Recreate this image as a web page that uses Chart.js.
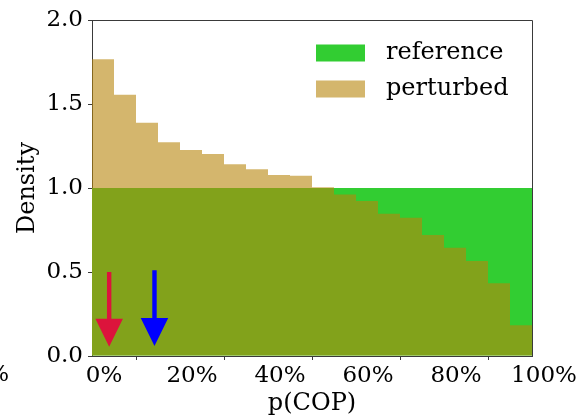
<!DOCTYPE html>
<html><head><meta charset="utf-8">
<script src="https://cdn.jsdelivr.net/npm/chart.js@4/dist/chart.umd.min.js"></script>
<style>html,body{margin:0;padding:0;background:#fff}#wrap{width:586px;height:416px;position:relative}canvas{display:block}</style>
</head><body><div id="wrap"><canvas id="c" width="586" height="416" style="width:586px;height:416px"></canvas></div>
<script>
// ---- data ----
const binStarts = [0,5,10,15,20,25,30,35,40,45,50,55,60,65,70,75,80,85,90,95];
const binWidth = 5;
const referenceDensity = [1,1,1,1,1,1,1,1,1,1,1,1,1,1,1,1,1,1,1,1];
const perturbedDensity = [1.766,1.555,1.389,1.272,1.226,1.202,1.141,1.111,1.077,1.073,1.005,0.962,0.923,0.847,0.823,0.720,0.645,0.565,0.433,0.183];
const seriesLabels = ['reference','perturbed'];
const xTickValues = [0,20,40,60,80,100];
const yTickValues = [0,0.5,1,1.5,2];
const arrowX = [3.9, 14.2];
const arrowFrom = [0.50, 0.51];
const arrowTo = [0.055, 0.06];
const arrowColors = ['#DC143C','#0000FF'];

const FONT = "'DejaVu Serif', serif";
const refColor = 'rgb(50,205,50)';
const pertColor = 'rgba(184,134,11,0.6)';
const axisColor = '#3a3a3a';

function toPoints(vals){ return binStarts.map((s,i)=>({x:s+binWidth/2, y:vals[i]})); }

const extras = {
  id:'extras',
  afterDatasetsDraw(chart){
    const ctx = chart.ctx, xs = chart.scales.x, ys = chart.scales.y;
    ctx.save();
    for (let i=0;i<arrowX.length;i++){
      const x = xs.getPixelForValue(arrowX[i]);
      const y0 = ys.getPixelForValue(arrowFrom[i]);
      const y1 = ys.getPixelForValue(arrowTo[i]);
      const headLen = 28, headW = 27.5, shaftW = 4.4;
      ctx.fillStyle = arrowColors[i];
      ctx.beginPath();
      ctx.moveTo(x-shaftW/2, y0);
      ctx.lineTo(x+shaftW/2, y0);
      ctx.lineTo(x+shaftW/2, y1-headLen);
      ctx.lineTo(x+headW/2, y1-headLen);
      ctx.lineTo(x, y1);
      ctx.lineTo(x-headW/2, y1-headLen);
      ctx.lineTo(x-shaftW/2, y1-headLen);
      ctx.closePath();
      ctx.fill();
    }
    ctx.restore();
  },
  afterDraw(chart){
    const ctx = chart.ctx, a = chart.chartArea;
    ctx.save();
    // top and right spines
    ctx.strokeStyle = axisColor; ctx.lineWidth = 1;
    ctx.beginPath();
    ctx.moveTo(a.left, Math.round(a.top)+0.5);
    ctx.lineTo(Math.round(a.right)+0.5, Math.round(a.top)+0.5);
    ctx.lineTo(Math.round(a.right)+0.5, a.bottom);
    ctx.stroke();
    // legend
    const ds = chart.data.datasets;
    const sx = a.right - 216, tx = a.right - 146;
    ds.forEach((d,i)=>{
      const cy = a.top + 33 + i*36;
      ctx.fillStyle = d.backgroundColor;
      ctx.fillRect(sx, cy-8.5, 49, 17);
      ctx.fillStyle = '#000';
      ctx.font = "24px " + FONT;
      ctx.textAlign = 'left'; ctx.textBaseline = 'middle';
      ctx.fillText(d.label, tx, cy);
    });
    // clipped percent sign at left edge
    ctx.fillStyle = '#000';
    ctx.font = "23px " + FONT;
    ctx.textAlign = 'right'; ctx.textBaseline = 'middle';
    ctx.fillText('%', 9, chart.scales.x.top + 19);
    ctx.restore();
  }
};

new Chart(document.getElementById('c'), {
  type:'bar',
  data:{
    datasets:[
      {label:seriesLabels[0], data:toPoints(referenceDensity), backgroundColor:refColor, order:1,
       barPercentage:1, categoryPercentage:1, borderWidth:0, inflateAmount:0, grouped:false},
      {label:seriesLabels[1], data:toPoints(perturbedDensity), backgroundColor:pertColor, order:0,
       barPercentage:1, categoryPercentage:1, borderWidth:0, inflateAmount:0, grouped:false}
    ]
  },
  options:{
    responsive:false, maintainAspectRatio:false, animation:false,
    devicePixelRatio:1,
    layout:{padding:{top:20,right:54,left:0,bottom:0}},
    plugins:{legend:{display:false}, tooltip:{enabled:false}},
    scales:{
      x:{
        type:'linear', min:0, max:100, offset:false,
        afterBuildTicks(s){ s.ticks = xTickValues.map(v=>({value:v})); },
        afterFit(s){ s.height = 60; },
        ticks:{ callback:v=>v+'%', color:'#000', font:{family:FONT,size:23}, padding:2, labelOffset:12, maxRotation:0, autoSkip:false },
        grid:{ drawOnChartArea:false, drawTicks:true, tickLength:4, color:axisColor },
        border:{ display:true, color:axisColor, width:1 },
        title:{ display:true, text:'p(COP)', color:'#000', font:{family:FONT,size:24,lineHeight:1}, padding:{top:0,bottom:0} }
      },
      y:{
        type:'linear', min:0, max:2,
        afterBuildTicks(s){ s.ticks = yTickValues.map(v=>({value:v})); },
        afterFit(s){ s.width = 92; },
        ticks:{ callback:v=>v.toFixed(1), color:'#000', font:{family:FONT,size:23}, padding:5 },
        grid:{ drawOnChartArea:false, drawTicks:true, tickLength:4, color:axisColor },
        border:{ display:true, color:axisColor, width:1 },
        title:{ display:true, text:'Density', color:'#000', font:{family:FONT,size:24,lineHeight:1}, padding:{top:16,bottom:0} }
      }
    }
  },
  plugins:[extras]
});
</script>
</body></html>
